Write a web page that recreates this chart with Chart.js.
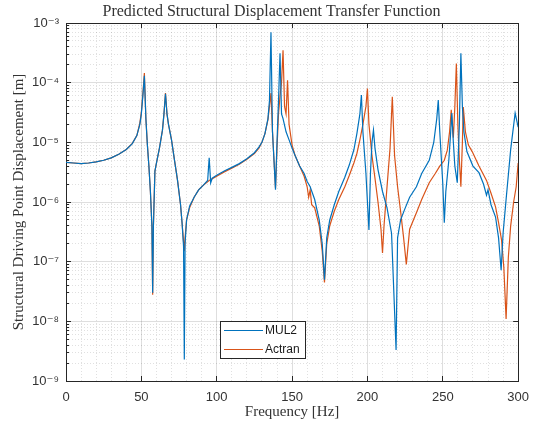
<!DOCTYPE html>
<html>
<head>
<meta charset="utf-8">
<script src="https://cdn.jsdelivr.net/npm/chart.js@4/dist/chart.umd.min.js"></script>
<style>
  html, body { margin: 0; padding: 0; background: #fff; }
  #wrap { width: 543px; height: 430px; }
</style>
</head>
<body>
<div id="wrap"><canvas id="myChart" width="543" height="430"></canvas></div>
<script>
// MUL2 series (frequency in Hz, displacement in m)
const mul2Freq = [0, 5, 10, 15, 20, 25, 30, 35, 40, 44, 47, 49, 50, 51, 52, 53, 54, 55, 56, 57, 57.5, 58, 59, 60, 62, 64, 65, 66, 67, 68, 70, 72, 74, 76, 77, 78, 78.5, 79, 80, 82, 85, 88, 91, 94, 95, 96, 97, 100, 105, 110, 115, 120, 125, 128, 130, 132, 134, 135, 136, 137, 138, 139, 140, 141, 142, 143, 144, 146, 148, 150, 152, 155, 158, 160, 162, 165, 168, 170, 171.5, 173, 175, 178, 181, 185, 188, 191, 193, 195, 196, 197, 199, 200, 201, 202, 203, 204, 205, 207, 210, 213, 216, 219, 220, 222, 224.5, 228, 232.5, 236, 241, 244, 246, 247, 248, 250, 251, 252, 254, 255, 256, 257, 258, 259.6, 261, 262, 263, 264, 266, 270, 274, 277, 279, 280, 282, 285, 287, 288.7, 290, 292, 295, 296, 298, 300];
const mul2Disp = [4.6e-6, 4.5e-6, 4.4e-6, 4.5e-6, 4.7e-6, 5.0e-6, 5.5e-6, 6.3e-6, 7.6e-6, 9.5e-6, 1.3e-5, 2.0e-5, 3.0e-5, 6.0e-5, 1.3e-4, 2.5e-5, 9e-6, 4e-6, 1.5e-6, 4e-7, 3e-8, 4e-7, 3.3e-6, 4.5e-6, 8e-6, 1.6e-5, 3e-5, 6.5e-5, 3e-5, 2e-5, 1.1e-5, 5e-6, 2.3e-6, 9e-7, 4.5e-7, 1.8e-7, 2.3e-9, 2e-7, 5e-7, 8.5e-7, 1.2e-6, 1.6e-6, 1.9e-6, 2.3e-6, 5.5e-6, 2.1e-6, 2.5e-6, 2.8e-6, 3.3e-6, 3.8e-6, 4.4e-6, 5.3e-6, 6.7e-6, 8.3e-6, 1.0e-5, 1.4e-5, 2.5e-5, 5e-5, 7e-4, 1.5e-5, 5e-6, 1.6e-6, 1e-5, 5e-5, 3.1e-4, 3e-5, 2.5e-5, 1.5e-5, 1.1e-5, 8e-6, 6e-6, 4e-6, 3e-6, 2.2e-6, 1.8e-6, 1.1e-6, 5e-7, 2e-7, 5e-8, 2.5e-7, 5e-7, 9e-7, 1.5e-6, 2.6e-6, 4.2e-6, 7.5e-6, 1.4e-5, 3e-5, 6.2e-5, 1.5e-5, 3e-6, 1e-6, 3.4e-7, 3e-6, 1e-5, 1.6e-5, 8e-6, 3.5e-6, 1.5e-6, 8e-7, 3e-7, 3.3e-9, 2.5e-7, 5e-7, 7.3e-7, 1.2e-6, 1.8e-6, 3e-6, 5e-6, 1e-5, 2.5e-5, 5.1e-5, 1.5e-5, 2e-6, 4.5e-7, 1.5e-6, 5e-6, 1.2e-5, 3.1e-5, 1e-5, 4e-6, 2.1e-6, 2e-5, 3.1e-4, 4e-5, 1.5e-5, 7e-6, 4e-6, 3.1e-6, 2e-6, 1.3e-6, 1.6e-6, 9e-7, 5.6e-7, 2.5e-7, 7.2e-8, 3e-7, 1.1e-6, 7.4e-6, 1.2e-5, 3.1e-5, 1.8e-5];

// Actran series
const actranFreq = [0, 5, 10, 15, 20, 25, 30, 35, 40, 44, 47, 49, 50, 51, 52, 53, 54, 55, 56, 57, 57.5, 58, 59, 60, 62, 64, 65, 66, 67, 68, 70, 72, 74, 76, 77, 78.5, 79, 80, 82, 85, 88, 91, 95, 100, 105, 110, 115, 120, 125, 128, 130, 132, 134, 135, 136, 137, 138, 139, 140, 141, 142, 143, 144, 145, 146, 147, 148, 150, 152, 155, 158, 160, 161, 162, 163, 165, 168, 170, 171.5, 173, 175, 178, 181, 185, 188, 191, 193, 195, 197, 199, 200, 201, 203, 205, 207, 209, 210, 211, 213, 215, 216.5, 218, 220, 222, 224, 225.8, 228, 232.5, 236, 241, 245, 248, 251, 253, 254.5, 255.6, 257, 258, 259, 260, 261, 262, 263, 263.6, 265, 267, 269.5, 274, 279, 282, 285, 287, 289, 290.5, 292, 293.5, 295, 297, 298.7, 300];
const actranDisp = [4.6e-6, 4.5e-6, 4.4e-6, 4.5e-6, 4.7e-6, 5.0e-6, 5.5e-6, 6.3e-6, 7.6e-6, 9.6e-6, 1.3e-5, 2.1e-5, 3.2e-5, 6.5e-5, 1.45e-4, 2.5e-5, 9e-6, 4e-6, 1.5e-6, 4e-7, 2.8e-8, 4e-7, 3.3e-6, 4.5e-6, 8e-6, 1.6e-5, 3e-5, 6.7e-5, 3e-5, 2e-5, 1.1e-5, 5e-6, 2.3e-6, 9e-7, 4.5e-7, 1.5e-7, 2.5e-7, 5e-7, 8e-7, 1.2e-6, 1.6e-6, 1.9e-6, 2.3e-6, 2.7e-6, 3.2e-6, 3.7e-6, 4.3e-6, 5.2e-6, 6.5e-6, 8e-6, 1e-5, 1.4e-5, 2.4e-5, 4e-5, 6.7e-5, 1.5e-5, 5e-6, 1.7e-6, 8e-6, 3e-5, 6e-5, 1e-4, 3.5e-4, 4e-5, 3e-5, 1.1e-4, 2e-5, 9e-6, 6e-6, 4e-6, 2.7e-6, 1.8e-6, 1.2e-6, 1.6e-6, 9e-7, 8e-7, 4e-7, 1.5e-7, 4.5e-8, 2e-7, 4e-7, 7e-7, 1.1e-6, 1.8e-6, 2.8e-6, 4.5e-6, 6.5e-6, 1.1e-5, 2e-5, 4e-5, 8e-5, 2e-5, 6e-6, 2.5e-6, 1e-6, 3.5e-7, 1.4e-7, 4e-7, 1.8e-6, 8e-6, 5.8e-5, 6e-6, 1.8e-6, 7e-7, 2.5e-7, 9e-8, 3.5e-7, 6.6e-7, 1.1e-6, 2.1e-6, 3e-6, 4e-6, 5e-6, 7.4e-6, 1.5e-5, 3.5e-5, 1.2e-5, 4e-5, 2.1e-4, 2e-5, 5e-6, 1.8e-6, 1e-5, 3.9e-5, 1.5e-5, 9e-6, 7e-6, 4e-6, 2.3e-6, 1.4e-6, 8.3e-7, 4.5e-7, 2.3e-7, 8e-8, 1.1e-8, 1.2e-7, 3.9e-7, 1e-6, 1.8e-6, 4.5e-6];

// axis ticks
const xMajorTicks = [0, 50, 100, 150, 200, 250, 300];
const xMinorTicks = [10, 20, 30, 40, 60, 70, 80, 90, 110, 120, 130, 140, 160, 170, 180, 190, 210, 220, 230, 240, 260, 270, 280, 290];
const yExponents = [-9, -8, -7, -6, -5, -4, -3];
const yMinorFactors = [2, 3, 4, 5, 6, 7, 8, 9];

const blue = 'rgb(0, 114, 189)';
const orange = 'rgb(217, 83, 25)';
const axisColor = '#262626';

const sup = { '-': '\u207B', '0': '\u2070', '1': '\u00B9', '2': '\u00B2', '3': '\u00B3', '4': '\u2074',
    '5': '\u2075', '6': '\u2076', '7': '\u2077', '8': '\u2078', '9': '\u2079' };
const powLabel = (v) => {
    const e = Math.round(Math.log10(v));
    return '10' + String(e).split('').map(c => sup[c]).join('');
};

const yMajorValues = yExponents.map(e => Math.pow(10, e));
let yMinorValues = [];
yExponents.slice(0, -1).forEach(function(e) {
    yMinorFactors.forEach(function(k) {
        yMinorValues.push(k * Math.pow(10, e));
    });
});

const toPoints = (xs, ys) => xs.map((x, i) => ({ x: x, y: ys[i] }));
const setTicks = (vals) => (scale) => { scale.ticks = vals.map(v => ({ value: v })); };

// box + legend drawn after the datasets
const boxLegend = {
    id: 'boxLegend',
    afterDraw(chart) {
        const ctx = chart.ctx;
        const a = chart.chartArea;
        const lx = a.left + 154, ly = a.top + 298, lw = 85, lh = 37;
        ctx.save();
        ctx.fillStyle = '#fff';
        ctx.fillRect(lx, ly, lw, lh);
        ctx.strokeStyle = axisColor;
        ctx.lineWidth = 1;
        ctx.strokeRect(lx + 0.5, ly + 0.5, lw, lh);
        ctx.font = '12px "Liberation Sans", Arial, sans-serif';
        ctx.textBaseline = 'middle';
        chart.data.datasets.forEach(function(ds, i) {
            const yy = ly + 9.5 + i * 19;
            ctx.strokeStyle = ds.borderColor;
            ctx.lineWidth = 1.2;
            ctx.beginPath();
            ctx.moveTo(lx + 4, yy);
            ctx.lineTo(lx + 43, yy);
            ctx.stroke();
            ctx.fillStyle = '#1a1a1a';
            ctx.fillText(ds.label, lx + 45, yy);
        });
        ctx.restore();
    }
};

const ctx = document.getElementById('myChart').getContext('2d');
const chart = new Chart(ctx, {
    type: 'scatter',
    data: {
        datasets: [
            { label: 'MUL2', data: toPoints(mul2Freq, mul2Disp), borderColor: blue, backgroundColor: blue,
              showLine: true, pointRadius: 0, borderWidth: 1.2, tension: 0, xAxisID: 'x', yAxisID: 'y' },
            { label: 'Actran', data: toPoints(actranFreq, actranDisp), borderColor: orange, backgroundColor: orange,
              showLine: true, pointRadius: 0, borderWidth: 1.2, tension: 0, xAxisID: 'x', yAxisID: 'y' }
        ]
    },
    options: {
        responsive: false,
        animation: false,
        events: [],
        layout: { padding: 0 },
        plugins: {
            legend: { display: false },
            tooltip: { enabled: false },
            title: {
                display: true,
                text: 'Predicted Structural Displacement Transfer Function',
                font: { family: '"Liberation Serif", "DejaVu Serif", serif', size: 16, weight: 'normal', lineHeight: 1.2 },
                color: '#333',
                padding: { top: 2, bottom: 1.8 }
            }
        },
        scales: {
            x: {
                type: 'linear', position: 'bottom', min: 0, max: 300, weight: 1,
                afterBuildTicks: setTicks(xMajorTicks),
                afterFit: (s) => { s.height = 49; },
                grid: { color: 'rgba(0,0,0,0.13)', tickLength: -5, tickColor: axisColor },
                border: { color: axisColor },
                ticks: { padding: 14, color: '#333', font: { family: '"Liberation Sans", Arial, sans-serif', size: 13 } },
                title: { display: true, text: 'Frequency [Hz]', color: '#333', padding: { top: 2, bottom: 9 },
                         font: { family: '"Liberation Serif", "DejaVu Serif", serif', size: 15 } }
            },
            x2: {
                type: 'linear', position: 'bottom', min: 0, max: 300, weight: 0,
                afterBuildTicks: setTicks(xMinorTicks),
                afterFit: (s) => { s.height = 0; },
                grid: { color: 'rgba(0,0,0,0.12)', drawTicks: false },
                border: { display: false, dash: [1, 2] },
                ticks: { display: false }
            },
            xTop: {
                type: 'linear', position: 'top', min: 0, max: 300,
                afterBuildTicks: setTicks(xMajorTicks),
                afterFit: (s) => { s.height = 0; },
                grid: { drawOnChartArea: false, tickLength: -5, tickColor: axisColor },
                border: { color: axisColor },
                ticks: { display: false }
            },
            y: {
                type: 'logarithmic', position: 'left', min: 1e-9, max: 1e-3, weight: 1,
                afterBuildTicks: setTicks(yMajorValues),
                afterFit: (s) => { s.width = 66; },
                grid: { color: 'rgba(0,0,0,0.13)', tickLength: -5, tickColor: axisColor },
                border: { color: axisColor },
                ticks: { padding: 12, color: '#333', callback: (v) => powLabel(v),
                         font: { family: '"Liberation Sans", "DejaVu Sans", Arial, sans-serif', size: 13 } },
                title: { display: true, text: 'Structural Driving Point Displacement [m]', color: '#333',
                         padding: { top: 10, bottom: 0 },
                         font: { family: '"Liberation Serif", "DejaVu Serif", serif', size: 15 } }
            },
            y2: {
                type: 'logarithmic', position: 'left', min: 1e-9, max: 1e-3, weight: 0,
                afterBuildTicks: setTicks(yMinorValues),
                afterFit: (s) => { s.width = 0; },
                grid: { color: 'rgba(0,0,0,0.12)', tickLength: -3, tickColor: axisColor },
                border: { display: false, dash: [1, 2] },
                ticks: { display: false }
            },
            yRight: {
                type: 'logarithmic', position: 'right', min: 1e-9, max: 1e-3,
                afterBuildTicks: setTicks(yMajorValues),
                afterFit: (s) => { s.width = 24; },
                grid: { drawOnChartArea: false, tickLength: -5, tickColor: axisColor },
                border: { color: axisColor },
                ticks: { display: false }
            }
        }
    },
    plugins: [boxLegend]
});
</script>
</body>
</html>
